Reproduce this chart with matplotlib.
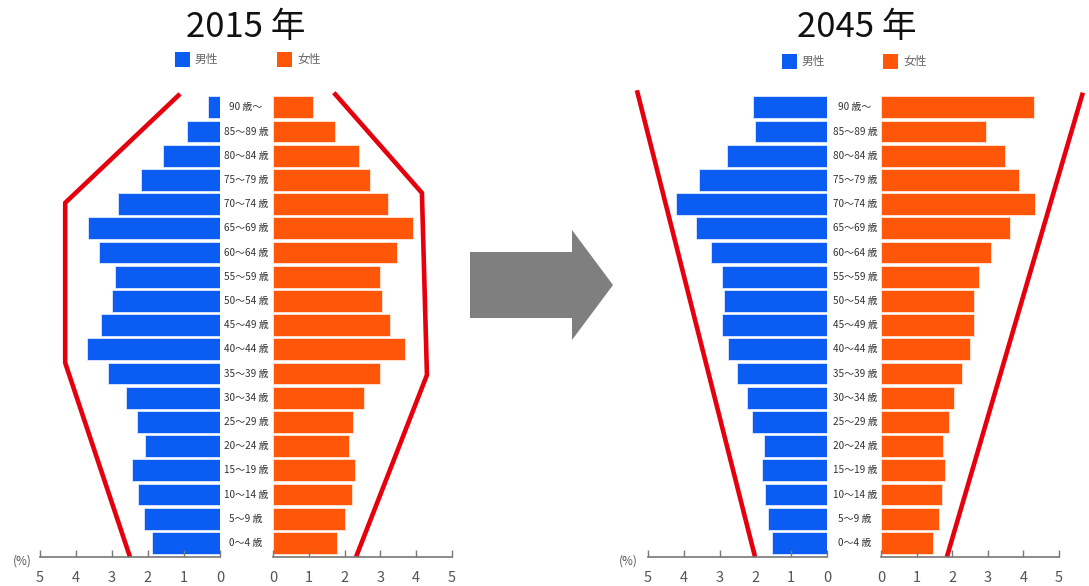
import matplotlib
matplotlib.use("Agg")
import matplotlib.pyplot as plt
from matplotlib.patches import Polygon
import numpy as np

plt.rcParams['font.family'] = ['Noto Sans CJK JP', 'DejaVu Sans']

## 人口ピラミッドのデータ (%)

ages = ['0～4 歳', '5～9 歳', '10～14 歳', '15～19 歳', '20～24 歳', '25～29 歳',
        '30～34 歳', '35～39 歳', '40～44 歳', '45～49 歳', '50～54 歳', '55～59 歳',
        '60～64 歳', '65～69 歳', '70～74 歳', '75～79 歳', '80～84 歳', '85～89 歳',
        '90 歳～']

male_2015 = [1.89, 2.11, 2.28, 2.44, 2.08, 2.31, 2.61, 3.11, 3.69, 3.31,
             3.00, 2.92, 3.36, 3.67, 2.83, 2.19, 1.58, 0.92, 0.33]
female_2015 = [1.79, 2.00, 2.20, 2.30, 2.12, 2.23, 2.55, 3.00, 3.68, 3.28,
               3.05, 2.99, 3.45, 3.90, 3.20, 2.70, 2.40, 1.73, 1.12]

male_2045 = [1.54, 1.65, 1.73, 1.82, 1.76, 2.09, 2.23, 2.51, 2.77, 2.93,
             2.88, 2.93, 3.24, 3.66, 4.22, 3.58, 2.79, 2.01, 2.07]
female_2045 = [1.46, 1.63, 1.71, 1.80, 1.74, 1.91, 2.05, 2.28, 2.50, 2.61,
               2.61, 2.75, 3.09, 3.62, 4.33, 3.88, 3.48, 2.95, 4.30]

# 手書きの赤い輪郭線 (x: %, y: 年齢階級の位置)
outline_2015_m = ([1.11, 4.30, 4.30, 2.50], [18.55, 14.05, 7.44, -0.58])
outline_2015_f = ([1.70, 4.16, 4.30, 2.32], [18.60, 14.46, 6.94, -0.58])
outline_2045_m = ([5.31, 2.01], [18.70, -0.58])
outline_2045_f = ([5.67, 1.85], [18.60, -0.58])

BLUE = '#0b5cf2'
ORANGE = '#ff560a'
RED = '#e6000e'

W, H = 1089, 586
fig = plt.figure(figsize=(W / 100, H / 100), dpi=100)
fig.patch.set_facecolor('white')

y = np.arange(len(ages))


def px(x0, x1):
    return x0 / W, (x1 - x0) / W


def side(x0, x1, values, color, left):
    l, w = px(x0, x1)
    ax = fig.add_axes([l, 1 - 557 / H, w, (557 - 83) / H])
    ax.barh(y, values, height=0.9, color=color, edgecolor='#dfe8ff' if left else '#ffe6d8',
            linewidth=0.6)
    ax.set_xlim((5, 0) if left else (0, 5))
    ax.set_ylim(-0.58, 19.0)
    for s in ['top', 'left', 'right']:
        ax.spines[s].set_visible(False)
    ax.spines['bottom'].set_color('#777777')
    ax.spines['bottom'].set_linewidth(1.2)
    ax.set_yticks([])
    ax.set_xticks([0, 1, 2, 3, 4, 5])
    ax.tick_params(axis='x', direction='in', length=5, width=1, color='#777777',
                   labelsize=10.5, labelcolor='#555555', pad=10)
    ax.patch.set_alpha(0)
    return ax


def pyramid(xs, males, females, outl_m, outl_f, title, title_x, leg_y, label_x, pct_x):
    axm = side(xs[0], xs[1], males, BLUE, True)
    axf = side(xs[2], xs[3], females, ORANGE, False)
    axm.plot(*outl_m, color=RED, lw=3.3, clip_on=False, solid_capstyle='butt')
    axf.plot(*outl_f, color=RED, lw=3.3, clip_on=False, solid_capstyle='butt')

    # 年齢階級ラベル
    for i, a in enumerate(ages):
        yy = 543 - 24.2 * i
        fig.text(label_x / W, 1 - yy / H, a, ha='center', va='center',
                 fontsize=7.2, color='#333333')

    fig.text(title_x / W, 1 - 28 / H, title, ha='center', va='center',
             fontsize=25, color='#111111')

    # 凡例
    for bx, c, t in [(leg_y[0], BLUE, '男性'), (leg_y[1], ORANGE, '女性')]:
        fig.patches.append(Polygon([(bx / W, 1 - leg_y[2] / H), ((bx + 15) / W, 1 - leg_y[2] / H),
                                    ((bx + 15) / W, 1 - (leg_y[2] + 15) / H), (bx / W, 1 - (leg_y[2] + 15) / H)],
                                   closed=True, facecolor=c, edgecolor='none',
                                   transform=fig.transFigure))
        fig.text((bx + 20) / W, 1 - (leg_y[2] + 7.5) / H, t, ha='left', va='center',
                 fontsize=8.5, color='#666666')

    fig.text(pct_x / W, 1 - 561 / H, '(%)', ha='center', va='center',
             fontsize=8.5, color='#555555')


pyramid((40, 220, 273, 452), male_2015, female_2015, outline_2015_m, outline_2015_f,
        '2015 年', 246, (175, 277, 52), 246, 22)
pyramid((648, 827, 881, 1059), male_2045, female_2045, outline_2045_m, outline_2045_f,
        '2045 年', 857, (782, 883, 54), 855, 628)

# 中央の灰色の矢印
arrow = [(470, 252), (572, 252), (572, 230), (613, 285), (572, 340), (572, 318), (470, 318)]
fig.patches.append(Polygon([(a / W, 1 - b / H) for a, b in arrow], closed=True,
                           facecolor='#7f7f7f', edgecolor='none', transform=fig.transFigure))

fig.savefig('out.png', dpi=100, facecolor='white')
